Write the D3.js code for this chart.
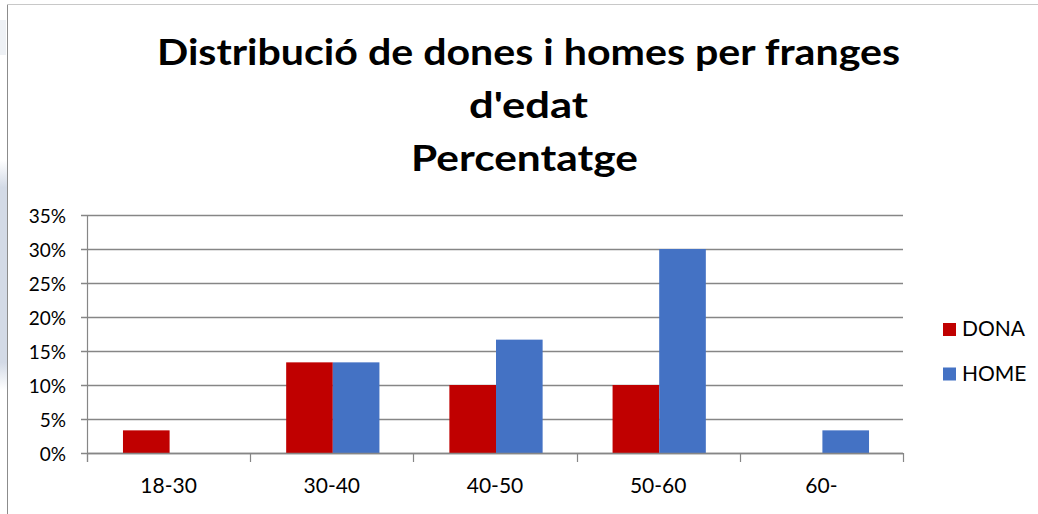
<!DOCTYPE html>
<html><head><meta charset="utf-8">
<script src="https://cdn.jsdelivr.net/npm/d3@7"></script>
<style>html,body{margin:0;padding:0;background:#fff;}svg{display:block;font-family:Lato,"Open Sans",sans-serif;}</style>
</head><body>
<svg id="c" width="1038" height="514"></svg>
<script>
const categories = ["18-30","30-40","40-50","50-60","60-"];
const seriesNames = ["DONA","HOME"];
const dona = [3.33, 13.33, 10, 10, 0];
const home = [0, 13.33, 16.67, 30, 3.33];
const yTicks = [0,5,10,15,20,25,30,35];
const colors = ["#C00000","#4472C4"];
const titleLines = ["Distribució de dones i homes per franges","d'edat","Percentatge"];

const svg = d3.select("#c");
// faint decoration at the left edge
const defs = svg.append("defs");
const g1 = defs.append("linearGradient").attr("id","fade").attr("x1",0).attr("x2",0).attr("y1",0).attr("y2",1);
g1.append("stop").attr("offset",0).attr("stop-color","#d3dae6").attr("stop-opacity",0);
g1.append("stop").attr("offset",0.12).attr("stop-color","#d3dae6").attr("stop-opacity",1);
g1.append("stop").attr("offset",0.88).attr("stop-color","#d3dae6").attr("stop-opacity",1);
g1.append("stop").attr("offset",1).attr("stop-color","#d3dae6").attr("stop-opacity",0);
svg.append("rect").attr("x",0).attr("y",160).attr("width",7).attr("height",230).attr("fill","url(#fade)");
svg.append("rect").attr("x",0).attr("y",20).attr("width",6).attr("height",35).attr("fill","#eef1f5");

// frame
svg.append("line").attr("x1",7.5).attr("x2",7.5).attr("y1",4).attr("y2",514).attr("stroke","#8c8c8c").attr("stroke-width",1);
svg.append("line").attr("x1",7).attr("x2",1038).attr("y1",4.5).attr("y2",4.5).attr("stroke","#c8c8c8").attr("stroke-width",1);

const x0 = d3.scaleBand().domain(categories).range([87,903]).paddingInner(0).paddingOuter(0);
const x1 = d3.scaleBand().domain(seriesNames).range([0,x0.bandwidth()]).paddingInner(0).paddingOuter(0.75);
const y = d3.scaleLinear().domain([0,35]).range([453,215]);

// gridlines
svg.append("g").selectAll("line").data(yTicks).join("line")
  .attr("x1",81).attr("x2",903).attr("y1",d=>Math.round(y(d))+0.5).attr("y2",d=>Math.round(y(d))+0.5)
  .attr("stroke","#868686").attr("stroke-width",1.5);

// y labels
svg.append("g").selectAll("text").data(yTicks).join("text")
  .attr("x",66).attr("y",d=>y(d)+7.5).attr("text-anchor","end")
  .attr("font-size",19).attr("fill","#000").text(d=>d+"%");

// bars
const data = categories.map((c,i)=>({c, vals:[dona[i],home[i]]}));
const grp = svg.append("g").selectAll("g").data(data).join("g").attr("transform",d=>`translate(${x0(d.c)+1},0)`);
grp.selectAll("rect").data(d=>d.vals.map((v,j)=>({v,s:seriesNames[j],j}))).join("rect")
  .attr("x",d=>x1(d.s)).attr("width",x1.bandwidth())
  .attr("y",d=>y(d.v)).attr("height",d=>y(0)-y(d.v))
  .attr("fill",d=>colors[d.j]);

// axes lines
svg.append("line").attr("x1",87.5).attr("x2",87.5).attr("y1",215).attr("y2",462).attr("stroke","#868686").attr("stroke-width",1.2);
svg.append("line").attr("x1",87).attr("x2",903).attr("y1",453.5).attr("y2",453.5).attr("stroke","#868686").attr("stroke-width",1.5);
const tickX = categories.map(c=>x0(c)).concat([x0.range()[1]]);
svg.append("g").selectAll("line").data(tickX).join("line")
  .attr("x1",d=>Math.round(d)+0.5).attr("x2",d=>Math.round(d)+0.5).attr("y1",453).attr("y2",462)
  .attr("stroke","#868686").attr("stroke-width",1.2);

// x labels
svg.append("g").selectAll("text").data(categories).join("text")
  .attr("x",d=>x0(d)+x0.bandwidth()/2).attr("y",493).attr("text-anchor","middle")
  .attr("font-size",21).attr("fill","#000").text(d=>d);

// legend
const leg = svg.append("g").selectAll("g").data(seriesNames).join("g")
  .attr("transform",(d,i)=>`translate(943,${323+i*44.5})`);
leg.append("rect").attr("width",13).attr("height",13).attr("fill",(d,i)=>colors[i]);
leg.append("text").attr("x",19).attr("y",13).attr("font-size",21).attr("fill","#000").text(d=>d);

// title
const tpos = [{y:65,x0:157,x1:900},{y:118,x0:469,x1:588},{y:171,x0:411,x1:638}];
svg.append("g").selectAll("text").data(titleLines).join("text")
  .attr("x",(d,i)=>tpos[i].x0).attr("y",(d,i)=>tpos[i].y)
  .attr("textLength",(d,i)=>tpos[i].x1-tpos[i].x0).attr("lengthAdjust","spacingAndGlyphs")
  .attr("font-size",37).attr("font-weight","bold").attr("fill","#000").text(d=>d);
</script>
</body></html>
